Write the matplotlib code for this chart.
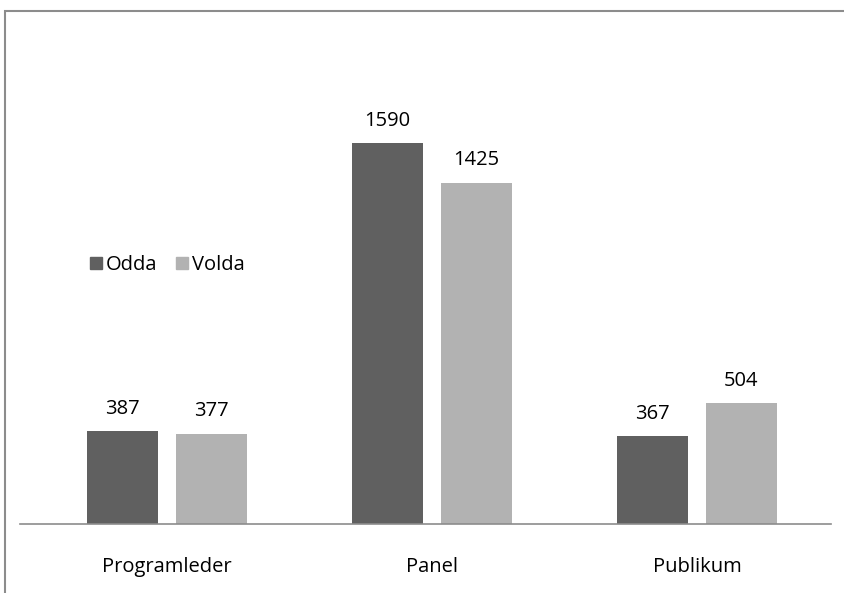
import numpy as np
import matplotlib.pyplot as plt
from matplotlib.patches import Rectangle, Patch

categories = ['Programleder', 'Panel', 'Publikum']
odda = [387, 1590, 367]
volda = [377, 1425, 504]

plt.rcParams['font.family'] = ['Open Sans', 'DejaVu Sans']
plt.rcParams['font.size'] = 14

fig = plt.figure(figsize=(8.45, 5.93), dpi=100)
ax = fig.add_axes([20 / 845, 69 / 593, 811 / 845, 494 / 593])

x = np.arange(len(categories))
w = 0.268
dark = '#606060'
light = '#b2b2b2'
b1 = ax.bar(x - 0.168, odda, w, color=dark)
b2 = ax.bar(x + 0.168, volda, w, color=light)
for bars in (b1, b2):
    ax.bar_label(bars, padding=9, fontsize=14.5)

ax.set_xlim(-0.555, 2.506)
ax.set_ylim(0, 2062)
ax.set_xticks(x, categories)
ax.tick_params(axis='x', length=0, pad=24, labelsize=14.5)
ax.set_yticks([])
for s in ['top', 'right', 'left']:
    ax.spines[s].set_visible(False)
ax.spines['bottom'].set_color('#8c8c8c')
ax.spines['bottom'].set_linewidth(1.2)

handles = [Patch(color=dark), Patch(color=light)]
fig.legend(handles, ['Odda', 'Volda'], loc='center left',
           bbox_to_anchor=(80 / 845, 1 - 265 / 593), ncol=2, frameon=False,
           handlelength=0.6, handleheight=0.6, handletextpad=0.2,
           columnspacing=0.9, borderpad=0, fontsize=14.5)

# outer border of the chart area
fig.patches.append(Rectangle((5 / 845, -0.1), 1.1, 1 - 11 / 593 + 0.1,
                             transform=fig.transFigure, fill=False,
                             edgecolor='#8c8c8c', linewidth=1.5))

fig.savefig('out.png', dpi=100)
